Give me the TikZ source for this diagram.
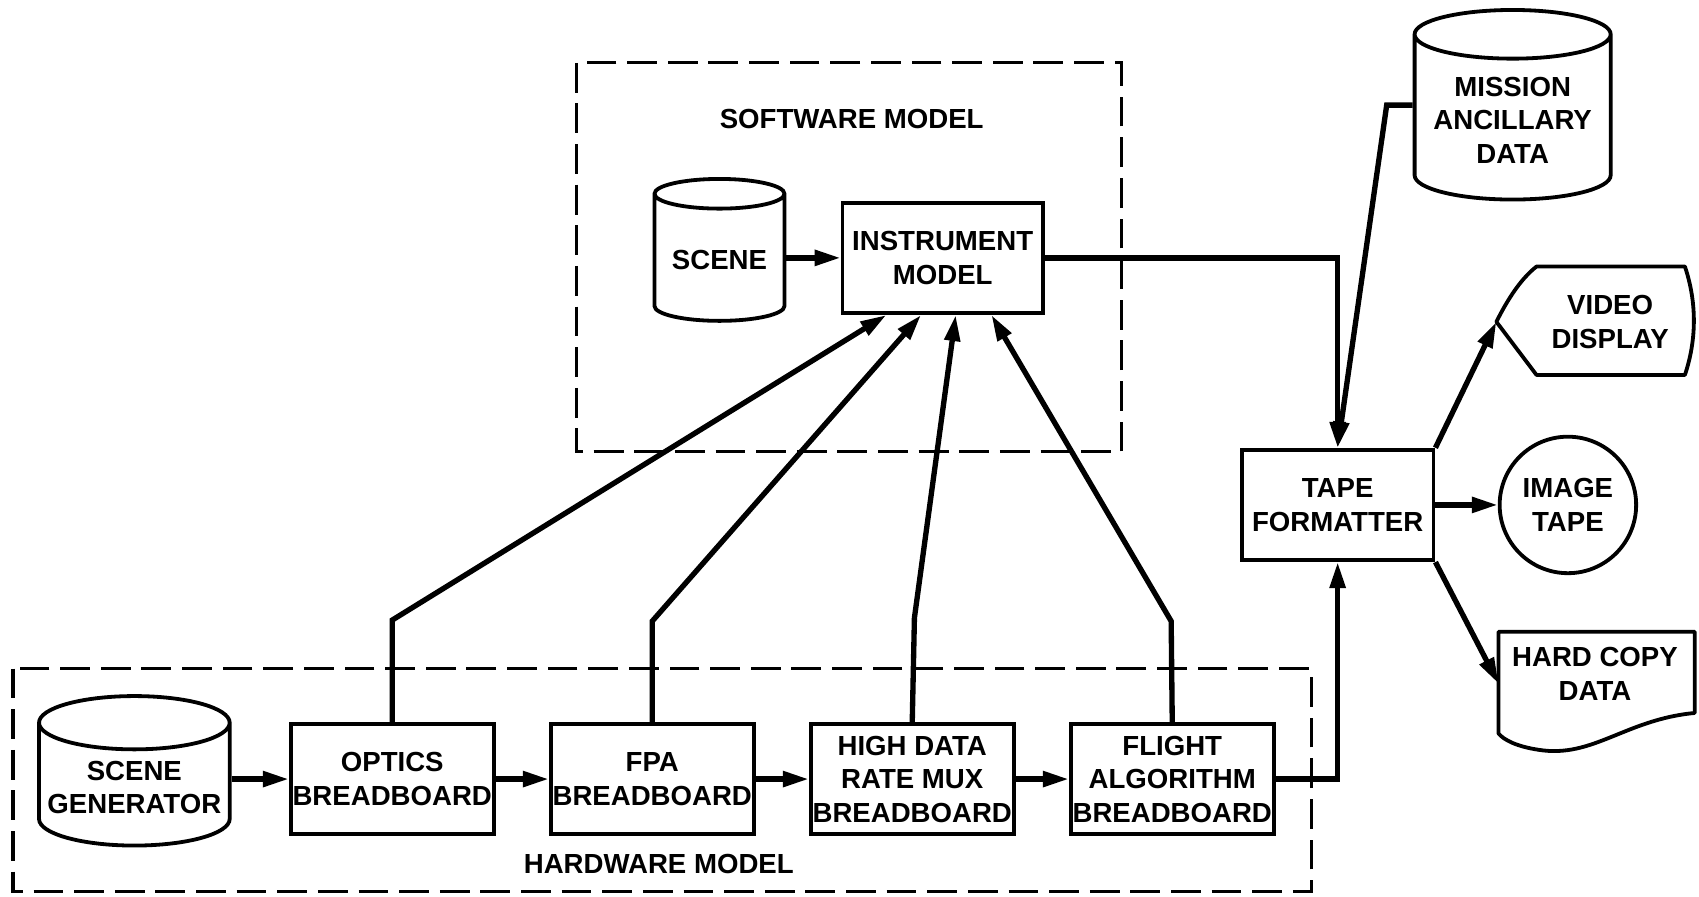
\documentclass[tikz,border=0pt]{standalone}
\usepackage{fontspec}
\setmainfont{Liberation Sans}
\usepackage{tikz}
\usetikzlibrary{shapes.geometric, arrows.meta, calc}
\tikzstyle{process} = [rectangle, minimum width=3.7cm, minimum height=2.04cm, text centered, align=center, draw=black, line width=2pt, inner sep=1pt]
\tikzstyle{store} = [cylinder, shape border rotate=90, aspect=0.3, text centered, align=center, draw=black, line width=2pt, inner sep=1pt]
\tikzstyle{reel} = [circle, minimum size=2.52cm, text centered, align=center, draw=black, line width=2pt, inner sep=0pt]
\tikzstyle{textonly} = [rectangle, text centered, align=center, inner sep=0pt]
\tikzstyle{outline} = [draw=black, line width=2pt, line join=round]
\tikzstyle{group} = [draw=black, line width=1.6pt, dash pattern=on 0.55cm off 0.2cm]
\tikzstyle{groupname} = [text centered, inner sep=0pt]
\tikzstyle{arrow} = [line width=2.8pt, -{Triangle[length=0.48cm, width=0.28cm]}]

\begin{document}
\begin{tikzpicture}[x=0.02cm, y=-0.02cm, node distance=4.8cm, font=\fontsize{14.5}{17.6}\selectfont\bfseries]
    \useasboundingbox (0,0) rectangle (1568,827);

    % Model groups
    \draw [group] (532,58) rectangle (1035,417);
    \draw [group] (12,617) rectangle (1210,823);
    \node (swname) [groupname] at (786,110) {SOFTWARE MODEL};
    \node (hwname) [groupname] at (608,797) {HARDWARE MODEL};

    % Software model
    \node (scene) [store, minimum width=2.4cm, minimum height=2.62cm] at (664,240) {SCENE};
    \node (instrument) [process] at (870,238) {INSTRUMENT\\MODEL};

    % Hardware model
    \node (scenegen) [store, minimum width=3.52cm, minimum height=2.76cm] at (124,727) {SCENE\\GENERATOR};
    \node (optics) [process] at (362,719) {OPTICS\\BREADBOARD};
    \node (fpa) [process, right of=optics] {FPA\\BREADBOARD};
    \node (mux) [process, right of=fpa] {HIGH DATA\\RATE MUX\\BREADBOARD};
    \node (flight) [process, right of=mux] {FLIGHT\\ALGORITHM\\BREADBOARD};

    % Formatting and outputs
    \node (tape) [process, minimum width=3.54cm] at (1234.5,466) {TAPE\\FORMATTER};
    \node (mission) [store, minimum width=3.62cm, minimum height=3.5cm] at (1396,111) {MISSION\\ANCILLARY\\DATA};
    \node (video) [textonly] at (1486,297) {VIDEO\\DISPLAY};
    \node (imagetape) [reel] at (1447,466) {IMAGE\\TAPE};
    \node (hardcopy) [textonly] at (1472,622) {HARD COPY\\DATA};
    \coordinate (videotip) at (1381,297);
    \coordinate (hardtip) at (1383,631);

    % Output shapes
    \draw [outline] (1418,246) -- (1555,246) .. controls (1566,279) and (1566,313) .. (1555,346)
        -- (1418,346) -- (videotip) .. controls (1392,275) and (1404,257) .. cycle;
    \draw [outline] (1383,583) -- (1564,583) -- (1564,658)
        .. controls (1500,664) and (1470,700) .. (1420,692)
        .. controls (1400,689) and (1388,683) .. (1383,677) -- cycle;

    % Connect nodes with arrows
    \draw [arrow] (scene.east |- instrument.west) -- (instrument.west);
    \draw [arrow] (scenegen.east |- optics.west) -- (optics.west);
    \draw [arrow] (optics) -- (fpa);
    \draw [arrow] (fpa) -- (mux);
    \draw [arrow] (mux) -- (flight);
    \draw [arrow] (optics.north) -- ++(0,-94) -- ($(instrument.south)+(-52,0)$);
    \draw [arrow] (fpa.north) -- ++(0,-93) -- ($(instrument.south)+(-20,0)$);
    \draw [arrow] (mux.north) -- ++(2,-96) -- ($(instrument.south)+(12,0)$);
    \draw [arrow] (flight.north) -- ++(-1,-93) -- ($(instrument.south)+(45,0)$);
    \draw [arrow] (flight.east) -| (tape.south);
    \draw [arrow] (instrument.east) -| (tape.north);
    \draw [arrow] ($(mission.west)+(0,-14)$) -- ++(-24,0) -- (tape.north);
    \draw [arrow] (tape.north east) -- (videotip);
    \draw [arrow] (tape.east) -- (imagetape.west);
    \draw [arrow] (tape.south east) -- (hardtip);
\end{tikzpicture}
\end{document}
